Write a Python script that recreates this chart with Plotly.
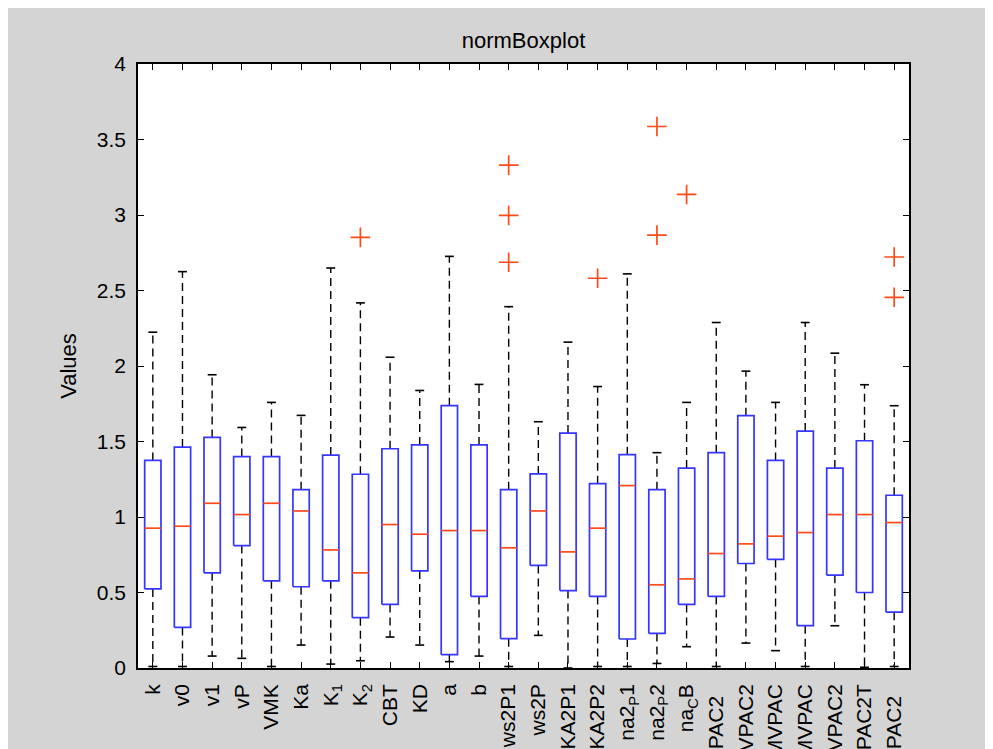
import plotly.graph_objects as go

# ---- data ----
PAD = '<span style="color:rgba(0,0,0,0)">a</span>'
labels = ["k", "v0", "v1", "vP", "VMK", "Ka", "K<sub>1</sub>", "K<sub>2</sub>", "CBT", "KD",
          "a", "b", "ws2P1", "ws2P", "KA2P1", "KA2P2", "na2<sub>P</sub>1", "na2<sub>P</sub>2",
          "na<sub>C</sub>B", "VPAC2" + PAD, "VPAC2", "MVPAC", "MVPAC", "VPAC2", "PAC2T",
          "VPAC2" + PAD]
lower_whisker = [0.01, 0.01, 0.079, 0.064, 0.01, 0.152, 0.026, 0.048, 0.205, 0.152,
                 0.042, 0.079, 0.01, 0.216, 0.0, 0.01, 0.01, 0.03, 0.141, 0.01,
                 0.165, 0.115, 0.01, 0.28, 0.005, 0.01]
q1 = [0.524, 0.269, 0.630, 0.811, 0.577, 0.538, 0.577, 0.333, 0.421, 0.643,
      0.088, 0.474, 0.194, 0.679, 0.513, 0.474, 0.192, 0.229, 0.421, 0.474,
      0.692, 0.719, 0.280, 0.615, 0.500, 0.370]
median = [0.926, 0.939, 1.091, 1.016, 1.091, 1.040, 0.782, 0.630, 0.950, 0.886,
          0.910, 0.910, 0.796, 1.040, 0.769, 0.926, 1.208, 0.551, 0.590, 0.758,
          0.822, 0.873, 0.897, 1.016, 1.016, 0.963]
q3 = [1.375, 1.463, 1.527, 1.400, 1.400, 1.181, 1.410, 1.283, 1.452, 1.477,
      1.737, 1.477, 1.181, 1.285, 1.556, 1.221, 1.413, 1.181, 1.324, 1.426,
      1.671, 1.375, 1.569, 1.324, 1.505, 1.144]
upper_whisker = [2.224, 2.625, 1.942, 1.593, 1.759, 1.673, 2.649, 2.418, 2.058, 1.838,
                 2.726, 1.878, 2.393, 1.631, 2.158, 1.864, 2.610, 1.426, 1.759, 2.288,
                 1.966, 1.759, 2.288, 2.085, 1.876, 1.737]
outliers = {8: [2.852], 13: [3.33, 2.997, 2.687], 16: [2.581], 18: [3.586, 2.867],
            19: [3.136], 26: [2.722, 2.455]}
y_ticks = [0, 0.5, 1, 1.5, 2, 2.5, 3, 3.5, 4]

# ---- geometry / style ----
BOX_HW = 0.275
CAP_HW = 0.15
BLUE = "#3535ff"
RED = "#ff4a1a"
FONT = "Liberation Sans, Arial, sans-serif"

pos = list(range(1, len(labels) + 1))
bx, by, mx, my, wx, wy, cx, cy = [], [], [], [], [], [], [], []
for i, p in enumerate(pos):
    bx += [p - BOX_HW, p + BOX_HW, p + BOX_HW, p - BOX_HW, p - BOX_HW, None]
    by += [q1[i], q1[i], q3[i], q3[i], q1[i], None]
    mx += [p - BOX_HW, p + BOX_HW, None]
    my += [median[i], median[i], None]
    wx += [p, p, None, p, p, None]
    wy += [q3[i], upper_whisker[i], None, q1[i], lower_whisker[i], None]
    cx += [p - CAP_HW, p + CAP_HW, None, p - CAP_HW, p + CAP_HW, None]
    cy += [upper_whisker[i], upper_whisker[i], None, lower_whisker[i], lower_whisker[i], None]

ox, oy = [], []
for k, vals in outliers.items():
    for v in vals:
        ox.append(k)
        oy.append(v)

fig = go.Figure()
fig.add_trace(go.Scatter(x=wx, y=wy, mode="lines", line=dict(color="black", width=1.4, dash="8px,5px"),
                         hoverinfo="skip"))
fig.add_trace(go.Scatter(x=cx, y=cy, mode="lines", line=dict(color="black", width=1.6), hoverinfo="skip"))
fig.add_trace(go.Scatter(x=bx, y=by, mode="lines", line=dict(color=BLUE, width=1.7), hoverinfo="skip"))
fig.add_trace(go.Scatter(x=mx, y=my, mode="lines", line=dict(color=RED, width=1.7), hoverinfo="skip"))
fig.add_trace(go.Scatter(x=ox, y=oy, mode="markers",
                         marker=dict(symbol="cross-thin", size=14, line=dict(color=RED, width=1.7))))

# page has an 8px body margin; target plot box in window pixels: x 138..909, y 64..668
W, H = 993, 741
L, T = 130, 56
R = W - (909 - 8)
B = H - (668 - 8)

fig.update_layout(
    width=W, height=H,
    margin=dict(l=L, r=R, t=T, b=B, autoexpand=False),
    paper_bgcolor="#d4d4d4", plot_bgcolor="white",
    showlegend=False,
    font=dict(family=FONT, size=21, color="black"),
    title=dict(text="normBoxplot", x=0.5, xref="paper", xanchor="center",
               y=1 - 32 / H, yref="container", yanchor="middle",
               font=dict(family=FONT, size=22, color="black")),
    xaxis=dict(range=[0.5, len(labels) + 0.5], tickmode="array", tickvals=pos, ticktext=labels,
               tickangle=-90, ticks="inside", ticklen=6, tickwidth=1.2, tickcolor="black",
               showline=True, linecolor="black", linewidth=1.5, mirror="ticks",
               showgrid=False, zeroline=False, ticklabelstandoff=6,
               tickfont=dict(family=FONT, size=21)),
    yaxis=dict(range=[0, 4], tickmode="array", tickvals=y_ticks,
               ticktext=[f"{v:g}" for v in y_ticks],
               ticks="inside", ticklen=6, tickwidth=1.2, tickcolor="black",
               showline=True, linecolor="black", linewidth=1.5, mirror="ticks",
               showgrid=False, zeroline=False, ticklabelstandoff=6,
               title=dict(text="Values", standoff=14, font=dict(family=FONT, size=22)),
               tickfont=dict(family=FONT, size=21)),
)

fig.write_html("out.html",
               post_script="document.documentElement.style.overflow='hidden';"
                           "document.body.style.overflow='hidden';")
